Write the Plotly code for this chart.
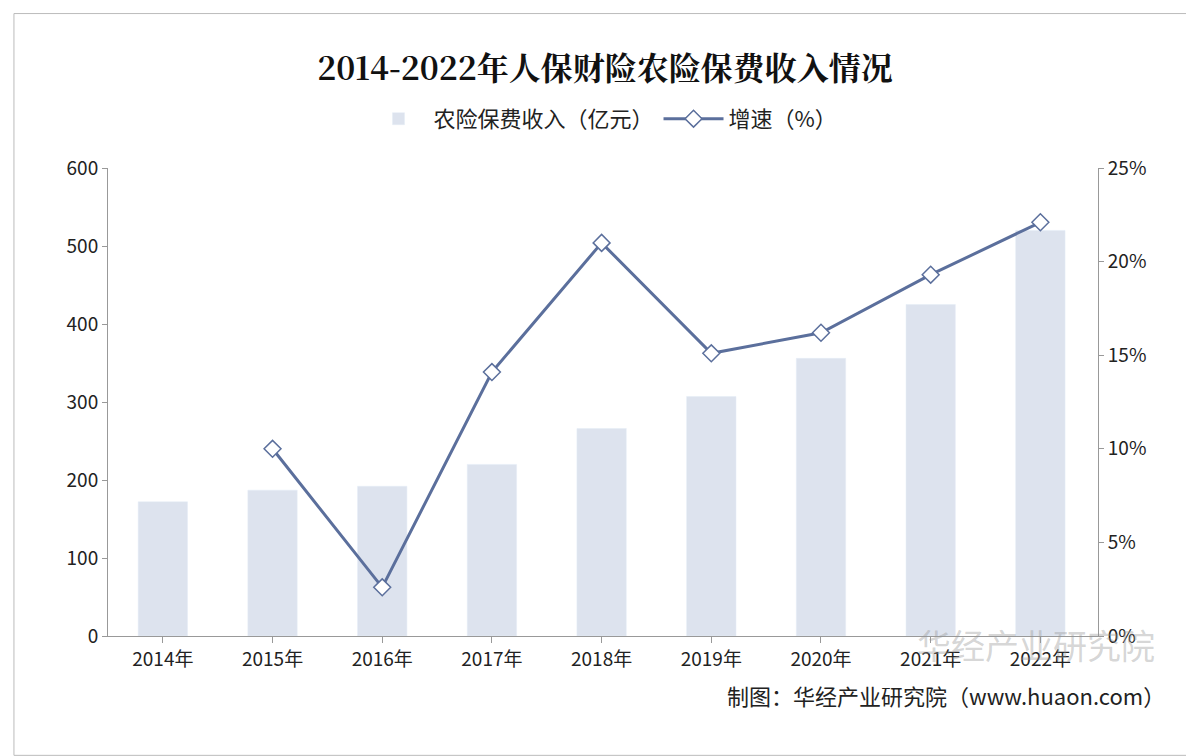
import plotly.graph_objects as go

years = ["2014年", "2015年", "2016年", "2017年", "2018年", "2019年", "2020年", "2021年", "2022年"]
premium = [172, 187, 192, 220, 266, 307, 356, 425, 520]
growth_years = years[1:]
growth = [10.0, 2.6, 14.1, 21.0, 15.1, 16.2, 19.3, 22.1]

fig = go.Figure()
fig.add_trace(go.Bar(
    x=years, y=premium, name="农险保费收入（亿元）",
    marker=dict(color="#dde3ee"), width=0.45,
))
fig.add_trace(go.Scatter(
    x=growth_years, y=growth, name="增速（%）", yaxis="y2",
    mode="lines+markers",
    line=dict(color="#5b6f9c", width=3),
    marker=dict(symbol="diamond", size=13, color="white",
                line=dict(color="#5b6f9c", width=1.5)),
))

font = "Noto Sans CJK SC"
fig.update_layout(
    width=1194, height=756,
    paper_bgcolor="white", plot_bgcolor="white",
    font=dict(family=font, size=19, color="#222"),
    title=dict(text="<b>2014-2022年人保财险农险保费收入情况</b>", x=0.5, y=0.935,
               xanchor="center", font=dict(family="Noto Serif CJK SC, " + font, size=32, color="#111")),
    legend=dict(orientation="h", x=0.5, xanchor="center", y=1.105, yanchor="middle",
                font=dict(size=22), itemwidth=60),
    margin=dict(l=100, r=104, t=160, b=128),
    bargap=0.55,
    xaxis=dict(showline=True, linecolor="#999", ticks="outside", tickcolor="#999",
               ticklen=6, tickfont=dict(size=19)),
    yaxis=dict(range=[0, 600], dtick=100, showgrid=False, showline=True,
               linecolor="#999", ticks="outside", tickcolor="#999", tickfont=dict(size=19)),
    yaxis2=dict(overlaying="y", side="right", range=[0, 25], dtick=5, ticksuffix="%",
                showgrid=False, showline=True, linecolor="#999", ticks="outside",
                tickcolor="#999", tickfont=dict(size=19)),
)
fig.add_annotation(text="制图：华经产业研究院（www.huaon.com）", xref="paper", yref="paper",
                   x=1.07, y=-0.165, xanchor="right", showarrow=False,
                   font=dict(size=22, color="#222"))
fig.add_annotation(text="华经产业研究院", xref="paper", yref="paper",
                   x=1.06, y=-0.075, xanchor="right", showarrow=False,
                   font=dict(size=34, color="rgba(150,150,150,0.4)"))
fig.add_shape(type="rect", xref="paper", yref="paper", x0=-0.095, x1=1.1, y0=-0.255, y1=1.33,
              line=dict(color="#bbb", width=1))
fig.write_html("out.html")
